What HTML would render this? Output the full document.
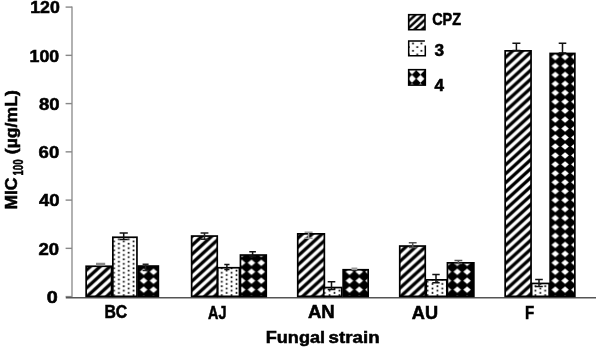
<!DOCTYPE html>
<html><head><meta charset="utf-8"><style>
html,body{margin:0;padding:0;background:#fff;}
svg{display:block;filter:blur(0.5px);}
text{font-family:"Liberation Sans", sans-serif;font-weight:bold;fill:#000;stroke:#000;stroke-width:0.55px;}
</style></head><body>
<svg width="597" height="349" viewBox="0 0 597 349">
<defs>
<pattern id="st" patternUnits="userSpaceOnUse" x="0" y="0" width="9.8" height="8.95"><rect width="9.8" height="8.95" fill="#fff"/><path d="M0 0 L2.45 0 L0 2.24 Z" fill="#000"/><path d="M7.35 0 L9.8 0 L9.8 2.24 L2.45 8.95 L0 8.95 L0 6.71 Z" fill="#000"/><path d="M9.8 6.71 L9.8 8.95 L7.35 8.95 Z" fill="#000"/></pattern>
<pattern id="dt" patternUnits="userSpaceOnUse" x="121.35" y="240.38" width="9.8" height="4.47"><rect width="9.8" height="4.47" fill="#fff"/><rect x="1.6" y="0.27" width="1.7" height="1.7" fill="#000"/><rect x="6.5" y="2.51" width="1.7" height="1.7" fill="#000"/></pattern>
<pattern id="dm" patternUnits="userSpaceOnUse" x="138.8" y="52.52" width="9.8" height="8.95"><rect width="9.8" height="8.95" fill="#000"/><path d="M4.9 1.17 L8.7 4.47 L4.9 7.77 L1.1 4.47 Z" fill="#fff"/></pattern>
<pattern id="lst" patternUnits="userSpaceOnUse" x="417" y="20.3" width="7.4" height="6.8"><rect width="7.4" height="6.8" fill="#fff"/><path d="M0 0 L1.85 0 L0 1.7 Z" fill="#000"/><path d="M5.55 0 L7.4 0 L7.4 1.7 L1.85 6.8 L0 6.8 L0 5.1 Z" fill="#000"/><path d="M7.4 5.1 L7.4 6.8 L5.55 6.8 Z" fill="#000"/></pattern>
<pattern id="ldt" patternUnits="userSpaceOnUse" x="410.88" y="41.67" width="8.5" height="7.3"><rect width="8.5" height="7.3" fill="#fff"/><rect x="1.27" y="0.97" width="1.7" height="1.7" fill="#000"/><rect x="5.53" y="4.62" width="1.7" height="1.7" fill="#000"/></pattern>
<pattern id="ldm" patternUnits="userSpaceOnUse" x="407.75" y="74.65" width="8.5" height="8.3"><rect width="8.5" height="8.3" fill="#000"/><path d="M4.25 0.15 L8.15 4.15 L4.25 8.15 L0.35 4.15 Z" fill="#fff"/></pattern>
</defs>
<rect x="0" y="0" width="597" height="349" fill="#fff"/>

<line x1="72" y1="6.4" x2="72" y2="297.5" stroke="#888" stroke-width="1.3"/>
<line x1="65.6" y1="296.6" x2="72" y2="296.6" stroke="#888" stroke-width="1.4"/>
<line x1="65.6" y1="248.35" x2="72" y2="248.35" stroke="#888" stroke-width="1.4"/>
<line x1="65.6" y1="200.1" x2="72" y2="200.1" stroke="#888" stroke-width="1.4"/>
<line x1="65.6" y1="151.85" x2="72" y2="151.85" stroke="#888" stroke-width="1.4"/>
<line x1="65.6" y1="103.6" x2="72" y2="103.6" stroke="#888" stroke-width="1.4"/>
<line x1="65.6" y1="55.35" x2="72" y2="55.35" stroke="#888" stroke-width="1.4"/>
<line x1="65.6" y1="7.1" x2="72" y2="7.1" stroke="#888" stroke-width="1.4"/>
<line x1="65.8" y1="297.7" x2="596" y2="297.7" stroke="#555" stroke-width="1.6"/>
<rect x="86.15" y="266.25" width="25.4" height="30.1" fill="url(#st)" stroke="#000" stroke-width="1.7"/>
<rect x="112.85" y="237.25" width="24.1" height="59.1" fill="url(#dt)" stroke="#000" stroke-width="1.7"/>
<rect x="138.25" y="266.05" width="20.1" height="30.3" fill="url(#dm)" stroke="#000" stroke-width="1.7"/>
<rect x="191.65" y="236.05" width="25.6" height="60.3" fill="url(#st)" stroke="#000" stroke-width="1.7"/>
<rect x="217.75" y="267.75" width="21.7" height="28.6" fill="url(#dt)" stroke="#000" stroke-width="1.7"/>
<rect x="240.45" y="255.05" width="25.8" height="41.3" fill="url(#dm)" stroke="#000" stroke-width="1.7"/>
<rect x="297.75" y="233.85" width="26.6" height="62.5" fill="url(#st)" stroke="#000" stroke-width="1.7"/>
<rect x="323.75" y="287.55" width="18" height="8.8" fill="url(#dt)" stroke="#000" stroke-width="1.7"/>
<rect x="343.15" y="269.75" width="25" height="26.6" fill="url(#dm)" stroke="#000" stroke-width="1.7"/>
<rect x="399.75" y="246.05" width="25.5" height="50.3" fill="url(#st)" stroke="#000" stroke-width="1.7"/>
<rect x="426.25" y="279.85" width="20.6" height="16.5" fill="url(#dt)" stroke="#000" stroke-width="1.7"/>
<rect x="447.45" y="262.85" width="26.4" height="33.5" fill="url(#dm)" stroke="#000" stroke-width="1.7"/>
<rect x="505.15" y="50.85" width="25.9" height="245.5" fill="url(#st)" stroke="#000" stroke-width="1.7"/>
<rect x="531.65" y="283.45" width="17.5" height="12.9" fill="url(#dt)" stroke="#000" stroke-width="1.7"/>
<rect x="550.15" y="53.45" width="24.7" height="242.9" fill="url(#dm)" stroke="#000" stroke-width="1.7"/>
<path d="M100.6 265V263.6M96 263.6H105.2M96 265H105.2" stroke="#888" stroke-width="1.5" fill="none"/>
<path d="M123.7 239.5V233M119.6 233H127.8M119.6 239.5H127.8" stroke="#111" stroke-width="1.5" fill="none"/>
<path d="M145.6 270.6V264.2M142.6 264.2H148.6M142.6 270.6H148.6" stroke="#222" stroke-width="1.5" fill="none"/>
<path d="M204.5 239.2V232.9M200.6 232.9H208.4M200.6 239.2H208.4" stroke="#222" stroke-width="1.5" fill="none"/>
<path d="M226.9 269.4V264.6M224.3 264.6H229.5M224.3 269.4H229.5" stroke="#111" stroke-width="1.5" fill="none"/>
<path d="M252.6 256.5V251.8M249.3 251.8H255.9M249.3 256.5H255.9" stroke="#111" stroke-width="1.5" fill="none"/>
<path d="M308.6 238.3V232.3M304.6 232.3H312.6M304.6 238.3H312.6" stroke="#999" stroke-width="1.5" fill="none"/>
<path d="M331.5 289.6V281.7M327.7 281.7H335.3M327.7 289.6H335.3" stroke="#111" stroke-width="1.5" fill="none"/>
<path d="M354.4 269.5V268.3M351.5 268.3H357.3M351.5 269.5H357.3" stroke="#999" stroke-width="1.5" fill="none"/>
<path d="M412.7 247.5V242.8M408.8 242.8H416.6M408.8 247.5H416.6" stroke="#555" stroke-width="1.5" fill="none"/>
<path d="M436 282.8V274.6M432.3 274.6H439.7M432.3 282.8H439.7" stroke="#111" stroke-width="1.5" fill="none"/>
<path d="M458.4 263.5V260.5M454.5 260.5H462.3M454.5 263.5H462.3" stroke="#555" stroke-width="1.5" fill="none"/>
<path d="M516.4 50.5V43.3M512.4 43.3H520.4M512.4 50.5H520.4" stroke="#111" stroke-width="1.5" fill="none"/>
<path d="M539 286.5V279.6M535.2 279.6H542.8M535.2 286.5H542.8" stroke="#111" stroke-width="1.5" fill="none"/>
<path d="M562.5 53V43.3M558.7 43.3H566.3M558.7 53H566.3" stroke="#111" stroke-width="1.5" fill="none"/>
<text x="59.8" y="13.2" font-size="17" text-anchor="end" textLength="29.6" lengthAdjust="spacingAndGlyphs">120</text>
<text x="59.2" y="62.2" font-size="17" text-anchor="end" textLength="29.6" lengthAdjust="spacingAndGlyphs">100</text>
<text x="59.5" y="110.2" font-size="17" text-anchor="end" textLength="20.6" lengthAdjust="spacingAndGlyphs">80</text>
<text x="59.2" y="157.6" font-size="17" text-anchor="end" textLength="20.6" lengthAdjust="spacingAndGlyphs">60</text>
<text x="59.6" y="206.3" font-size="17" text-anchor="end" textLength="20.6" lengthAdjust="spacingAndGlyphs">40</text>
<text x="59.1" y="254.9" font-size="17" text-anchor="end" textLength="20.6" lengthAdjust="spacingAndGlyphs">20</text>
<text x="57.8" y="302.6" font-size="17" text-anchor="end" textLength="11" lengthAdjust="spacingAndGlyphs">0</text>
<text x="104.4" y="318.1" font-size="18" textLength="22.8" lengthAdjust="spacingAndGlyphs">BC</text>
<text x="208" y="318.5" font-size="18" textLength="18.4" lengthAdjust="spacingAndGlyphs">AJ</text>
<text x="307.9" y="318.4" font-size="18" textLength="26.8" lengthAdjust="spacingAndGlyphs">AN</text>
<text x="411.8" y="318.5" font-size="18" textLength="26.2" lengthAdjust="spacingAndGlyphs">AU</text>
<text x="524.9" y="318.5" font-size="18" textLength="9.2" lengthAdjust="spacingAndGlyphs">F</text>
<text x="265.8" y="343.3" font-size="17" textLength="59.2" lengthAdjust="spacingAndGlyphs">Fungal</text>
<text x="328.6" y="343.3" font-size="17" textLength="51.0" lengthAdjust="spacingAndGlyphs">strain</text>
<text transform="translate(17.3,209.6) rotate(-90)" font-size="17" textLength="32" lengthAdjust="spacingAndGlyphs">MIC</text>
<text transform="translate(23.0,175.6) rotate(-90)" font-size="14" textLength="16.2" lengthAdjust="spacingAndGlyphs">100</text>
<text transform="translate(17.3,154.2) rotate(-90)" font-size="17" textLength="64" lengthAdjust="spacingAndGlyphs">(µg/mL)</text>
<rect x="408.7" y="14.7" width="16.3" height="15" fill="url(#lst)" stroke="#000" stroke-width="1.6"/>
<rect x="408.7" y="41" width="16.6" height="14.7" fill="url(#ldt)"/>
<path d="M424.9 41H408.7V55.7H425.3V45.6" fill="none" stroke="#000" stroke-width="1.5"/>
<rect x="408.7" y="69.7" width="16.6" height="15.4" fill="url(#ldm)" stroke="#000" stroke-width="1.6"/>
<text x="432.2" y="24.5" font-size="16.5" textLength="28.8" lengthAdjust="spacingAndGlyphs">CPZ</text>
<text x="434.4" y="55.6" font-size="16.8" textLength="9.6" lengthAdjust="spacingAndGlyphs">3</text>
<text x="434.4" y="90.5" font-size="16.8" textLength="9.5" lengthAdjust="spacingAndGlyphs">4</text>
</svg>
</body></html>
